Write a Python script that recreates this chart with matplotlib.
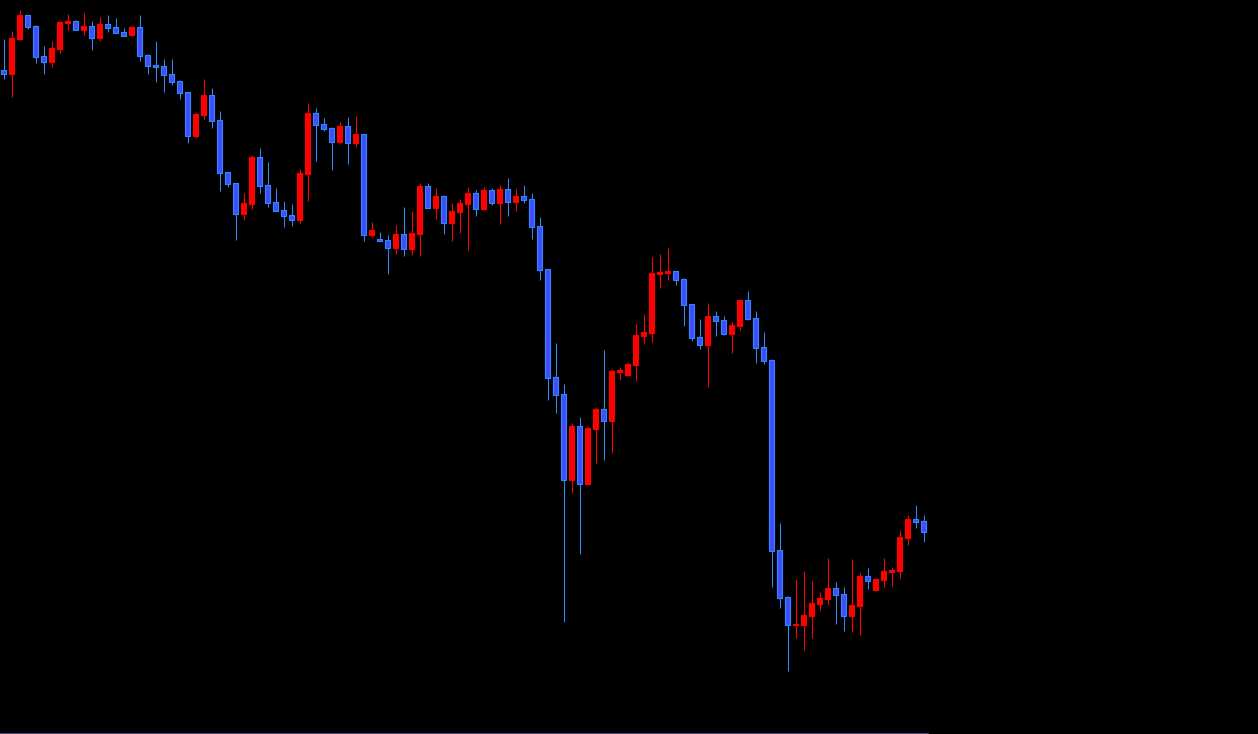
import matplotlib
matplotlib.use("Agg")
import matplotlib.pyplot as plt

# bar data (O, H, L, C), one entry per candle, oldest first
opens = [149.300, 149.263, 149.607, 149.850, 149.740, 149.440, 149.383, 149.510, 149.773, 149.790,
         149.700, 149.740, 149.623, 149.760, 149.730, 149.680, 149.650, 149.730, 149.450, 149.350,
         149.340, 149.260, 149.190, 149.080, 148.643, 148.850, 149.050, 148.800, 148.280, 148.170,
         147.863, 147.963, 148.430, 148.150, 147.980, 147.900, 147.850, 147.803, 148.263, 148.870,
         148.760, 148.720, 148.583, 148.740, 148.573, 148.660, 147.653, 147.610, 147.600, 147.523,
         147.660, 147.513, 147.663, 148.140, 147.923, 148.040, 147.773, 147.883, 147.963, 148.070,
         147.913, 148.100, 147.973, 148.110, 147.983, 148.040, 148.010, 147.740, 147.310, 146.230,
         146.060, 145.203, 145.740, 145.163, 145.713, 145.910, 145.793, 146.283, 146.253, 146.350,
         146.643, 146.670, 147.263, 147.273, 147.290, 147.210, 146.960, 146.630, 146.553, 146.840,
         146.800, 146.663, 146.743, 147.000, 146.820, 146.530, 146.400, 144.500, 144.030, 143.750,
         143.753, 143.843, 143.963, 144.013, 144.120, 144.060, 143.843, 143.943, 144.240, 144.103,
         144.203, 144.283, 144.293, 144.623, 144.810, 144.790]
highs = [149.610, 149.690, 149.900, 149.850, 149.750, 149.540, 149.590, 149.790, 149.860, 149.800,
         149.870, 149.790, 149.830, 149.850, 149.820, 149.720, 149.740, 149.850, 149.460, 149.590,
         149.410, 149.410, 149.200, 149.080, 148.880, 149.210, 149.120, 148.890, 148.280, 148.170,
         148.070, 148.450, 148.520, 148.380, 148.120, 147.990, 147.960, 148.310, 148.970, 148.920,
         148.820, 148.730, 148.780, 148.830, 148.840, 148.660, 147.780, 147.680, 147.650, 147.750,
         147.930, 147.890, 148.170, 148.170, 148.120, 148.050, 147.970, 148.010, 148.130, 148.100,
         148.130, 148.120, 148.150, 148.220, 148.110, 148.150, 148.070, 147.830, 147.310, 146.570,
         146.160, 145.770, 145.830, 145.740, 145.930, 146.500, 146.310, 146.330, 146.380, 146.760,
         146.860, 147.430, 147.460, 147.520, 147.290, 147.220, 146.960, 146.810, 146.970, 146.890,
         146.840, 146.780, 147.000, 147.090, 146.890, 146.680, 146.410, 144.770, 144.040, 144.210,
         144.293, 144.193, 144.080, 144.420, 144.180, 144.130, 144.410, 144.270, 144.320, 144.210,
         144.420, 144.330, 144.700, 144.850, 144.950, 144.850]
lows = [149.210, 149.030, 149.600, 149.710, 149.373, 149.263, 149.330, 149.470, 149.700, 149.703,
        149.650, 149.500, 149.593, 149.680, 149.673, 149.643, 149.643, 149.393, 149.263, 149.180,
        149.080, 149.153, 149.013, 148.573, 148.623, 148.810, 148.723, 148.093, 148.133, 147.603,
        147.803, 147.913, 148.073, 147.933, 147.893, 147.733, 147.743, 147.773, 147.993, 148.393,
        148.693, 148.303, 148.563, 148.363, 148.533, 147.593, 147.633, 147.593, 147.263, 147.463,
        147.443, 147.453, 147.443, 147.923, 147.813, 147.663, 147.593, 147.673, 147.503, 147.843,
        147.903, 147.953, 147.763, 147.843, 147.893, 147.973, 147.613, 147.203, 146.003, 145.873,
        143.783, 145.073, 144.463, 145.163, 145.373, 145.403, 145.473, 146.203, 146.243, 146.193,
        146.563, 146.583, 147.123, 147.203, 147.153, 146.743, 146.593, 146.513, 146.133, 146.643,
        146.653, 146.473, 146.703, 146.803, 146.373, 146.363, 144.133, 143.923, 143.293, 143.623,
        143.503, 143.623, 143.903, 143.953, 143.763, 143.693, 143.683, 143.653, 144.113, 144.093,
        144.133, 144.143, 144.223, 144.553, 144.723, 144.583]
closes = [149.263, 149.620, 149.850, 149.733, 149.433, 149.383, 149.520, 149.780, 149.790, 149.703,
          149.740, 149.623, 149.760, 149.720, 149.673, 149.643, 149.730, 149.443, 149.343, 149.333,
          149.253, 149.183, 149.073, 148.643, 148.860, 149.050, 148.793, 148.273, 148.163, 147.863,
          147.970, 148.430, 148.143, 147.973, 147.893, 147.843, 147.803, 148.270, 148.870, 148.753,
          148.713, 148.583, 148.740, 148.573, 148.660, 147.653, 147.700, 147.593, 147.523, 147.660,
          147.513, 147.670, 148.140, 147.923, 148.040, 147.773, 147.890, 147.970, 148.070, 147.913,
          148.100, 147.973, 148.110, 147.983, 148.040, 148.003, 147.733, 147.303, 146.223, 146.053,
          145.203, 145.740, 145.163, 145.720, 145.910, 145.793, 146.290, 146.300, 146.360, 146.650,
          146.680, 147.270, 147.280, 147.290, 147.203, 146.953, 146.623, 146.553, 146.840, 146.793,
          146.663, 146.750, 147.000, 146.813, 146.523, 146.393, 144.493, 144.023, 143.753, 143.763,
          143.850, 143.970, 144.020, 144.120, 144.053, 143.843, 143.950, 144.240, 144.193, 144.210,
          144.290, 144.300, 144.630, 144.810, 144.783, 144.683]

UP_COL = "#ff0000"
DN_FILL = "#3f4cff"
DN_EDGE = "#2a8cff"

W, H = 1258, 734
fig = plt.figure(figsize=(W / 100, H / 100), dpi=100, facecolor="black")
ax = fig.add_axes([0, 0, 1, 1])
ax.set_facecolor("black")

n = len(opens)
xs = list(range(n))
for i in xs:
    o, h, l, c = opens[i], highs[i], lows[i], closes[i]
    up = c >= o
    wick = UP_COL if up else DN_EDGE
    fill = UP_COL if up else DN_FILL
    edge = UP_COL if up else DN_EDGE
    ax.vlines(i, l, h, color=wick, linewidth=0.75, zorder=1)
    ax.bar(i, abs(c - o), bottom=min(o, c), width=0.52,
           color=fill, edgecolor=edge, linewidth=0.8, zorder=2)

# 1 candle = 8 px, 1 price unit = 100 px
x0 = -3.5 / 8
ax.set_xlim(x0, x0 + W / 8)
ax.set_ylim(150 - H / 100, 150)

# thin bottom separator under the price area
ax.axhline(150 - 733.5 / 100, xmin=0, xmax=928 / W, color="#5b4a9e", linewidth=1.2)

ax.axis("off")
fig.savefig("out.png", dpi=100, facecolor="black")
